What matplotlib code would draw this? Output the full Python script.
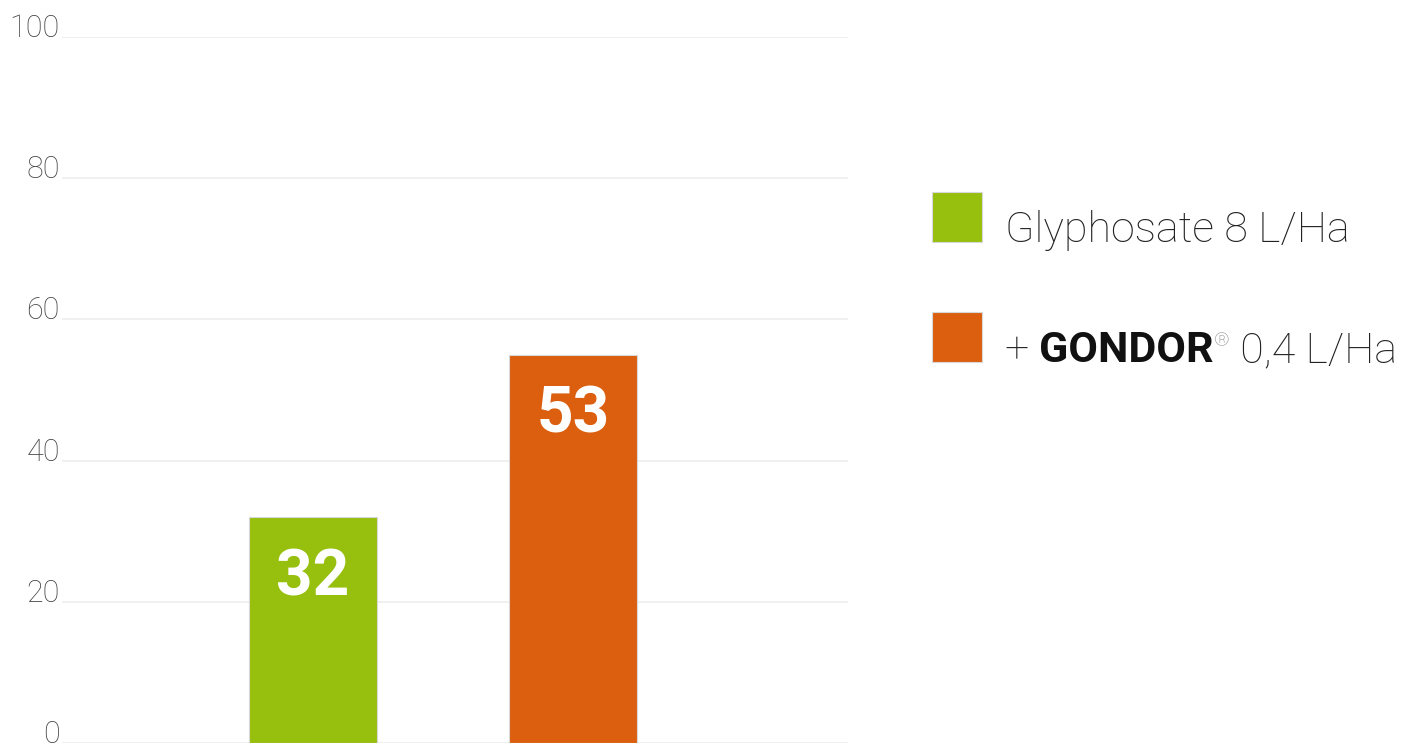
import matplotlib
matplotlib.use("Agg")
import matplotlib.pyplot as plt
from matplotlib.patches import Rectangle

# data
categories = ["Glyphosate 8 L/Ha", "+ GONDOR 0,4 L/Ha"]
bar_heights = [32, 55]
bar_labels = ["32", "53"]
colors = ["#97BF0D", "#DB5F0E"]
yticks = [0, 20, 40, 60, 80, 100]

W, H = 1409, 747
PT = 72 / 100  # points per pixel at dpi 100
fig = plt.figure(figsize=(W / 100, H / 100), dpi=100)
ax = fig.add_axes([62 / W, 1 - 743 / H, (848 - 62) / W, (743 - 37) / H])

x = list(range(len(categories)))
ax.bar(x, bar_heights, width=0.49, color=colors, edgecolor="#d8d8d8", linewidth=0.8, zorder=3)
ax.set_xlim(-0.965, 2.058)
ax.set_ylim(0, 100)

ax.set_yticks(yticks)
ax.set_yticklabels([])
ax.set_xticks([])
for s in ax.spines.values():
    s.set_visible(False)
ax.grid(axis="y", color="#eeeeee", linewidth=1.2, zorder=0)
ax.tick_params(axis="y", length=0)

for t in yticks:
    ax.annotate(str(t), (0, t), xycoords=("axes fraction", "data"),
                xytext=(-2 * PT, 8.5 * PT), textcoords="offset points",
                ha="right", va="center", fontsize=22, fontfamily="Roboto",
                fontweight="light", color="#444444", annotation_clip=False)

# value labels inside bars
for xi, h, lab in zip(x, bar_heights, bar_labels):
    ax.annotate(lab, (xi, h), xytext=(0, -78 * PT), textcoords="offset points",
                ha="center", va="baseline", color="white", fontsize=46,
                fontweight="bold", fontfamily="Roboto", zorder=4)

# legend
sq = 50
for (y0, c) in zip([192, 312], colors):
    fig.patches.append(Rectangle((932 / W, 1 - (y0 + sq) / H), sq / W, sq / H,
                                 transform=fig.transFigure, facecolor=c,
                                 edgecolor="#d8d8d8", linewidth=0.8))

fs = 31
fig.text(1005 / W, 1 - 242 / H, categories[0], fontsize=fs, fontfamily="Roboto",
         fontweight="light", color="#222222", va="baseline", ha="left")

fig.canvas.draw()
r = fig.canvas.get_renderer()
cx = 1005 / W
yb = 1 - 362 / H
parts = [("+ ", "light", fs, "#222222", 0),
         ("GONDOR", "bold", fs, "#111111", 0),
         ("®", "light", fs * 0.45, "#888888", 16 / H),
         (" 0,4 L/Ha", "light", fs, "#222222", 0)]
for txt, wt, size, col, dy in parts:
    t = fig.text(cx, yb + dy, txt, fontsize=size, fontfamily="Roboto", fontweight=wt,
                 color=col, va="baseline", ha="left")
    bb = t.get_window_extent(renderer=r)
    cx += bb.width / W

fig.savefig("out.png", dpi=100)
